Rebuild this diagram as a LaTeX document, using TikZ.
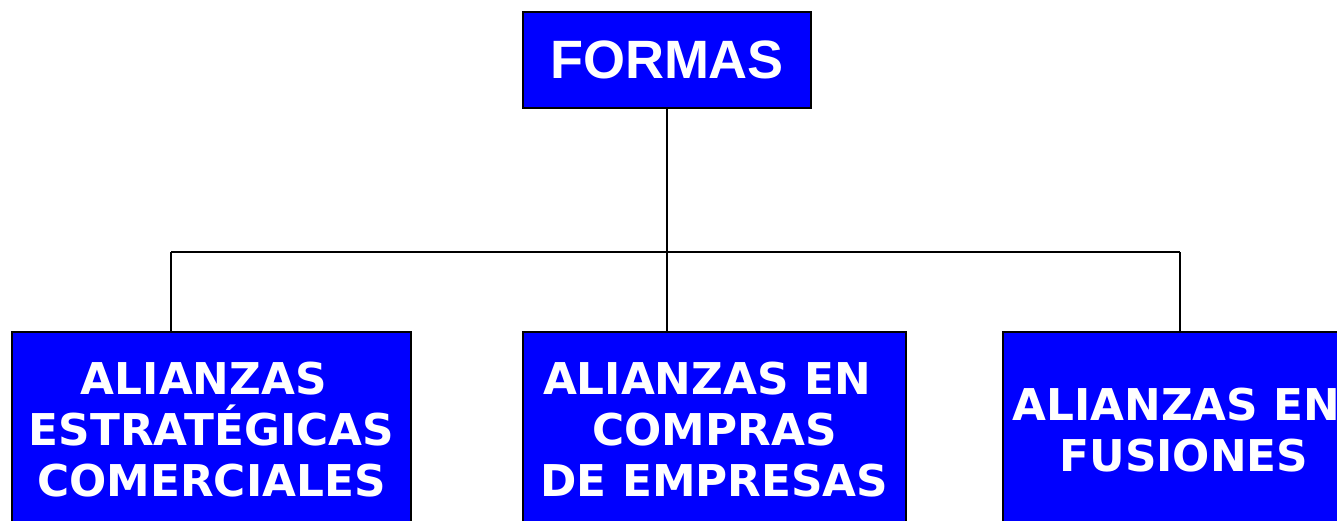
\documentclass[tikz,border=0pt]{standalone}
\usepackage{fontspec}
\usepackage{xcolor}
\usepackage{tikz}
\usetikzlibrary{positioning,calc}
\newfontfamily\boxfont{DejaVu Sans}
\newfontfamily\headfont{Liberation Sans}

\begin{document}
\begin{tikzpicture}[x=0.5pt, y=0.5pt,
    blockbox/.style={draw=black, fill=blue, line width=1pt, rectangle, text=white, align=center,
        font=\boxfont\bfseries\fontsize{21.9}{25.5}\selectfont},
    link/.style={line width=1pt}]
    \useasboundingbox (0,0) rectangle (1337,520);
    \clip (0,0) rectangle (1337,520);

    \node [blockbox, minimum width=144pt, minimum height=48pt, font=\headfont\bfseries\fontsize{27}{32}\selectfont] (formas) at (667,460) {FORMAS};

    \node [blockbox, minimum width=199.5pt, minimum height=98pt] (estrat) at (211.5,90) {ALIANZAS\hspace*{.35em}\\ESTRATÉGICAS\\COMERCIALES};
    \node [blockbox, minimum width=191.5pt, minimum height=98pt] (compras) at (714.5,90) {ALIANZAS EN\hspace*{.35em}\\COMPRAS\hspace*{.35em}\\DE EMPRESAS};
    \node [blockbox, minimum width=181pt, minimum height=98pt] (fusiones) at (1184,90) {ALIANZAS EN\hspace*{.35em}\\FUSIONES};

    % Connections
    \coordinate (hub) at (667,268);
    \coordinate (hubl) at (171,268);
    \coordinate (hubr) at (1180,268);
    \draw [link] (formas.south) -- (hub);
    \draw [link] (hubl) -- (hubr);
    \foreach \c/\n in {hubl/estrat, hub/compras, hubr/fusiones} {
        \draw [link] (\c) -- (\c |- \n.north);
    }
\end{tikzpicture}
\end{document}
